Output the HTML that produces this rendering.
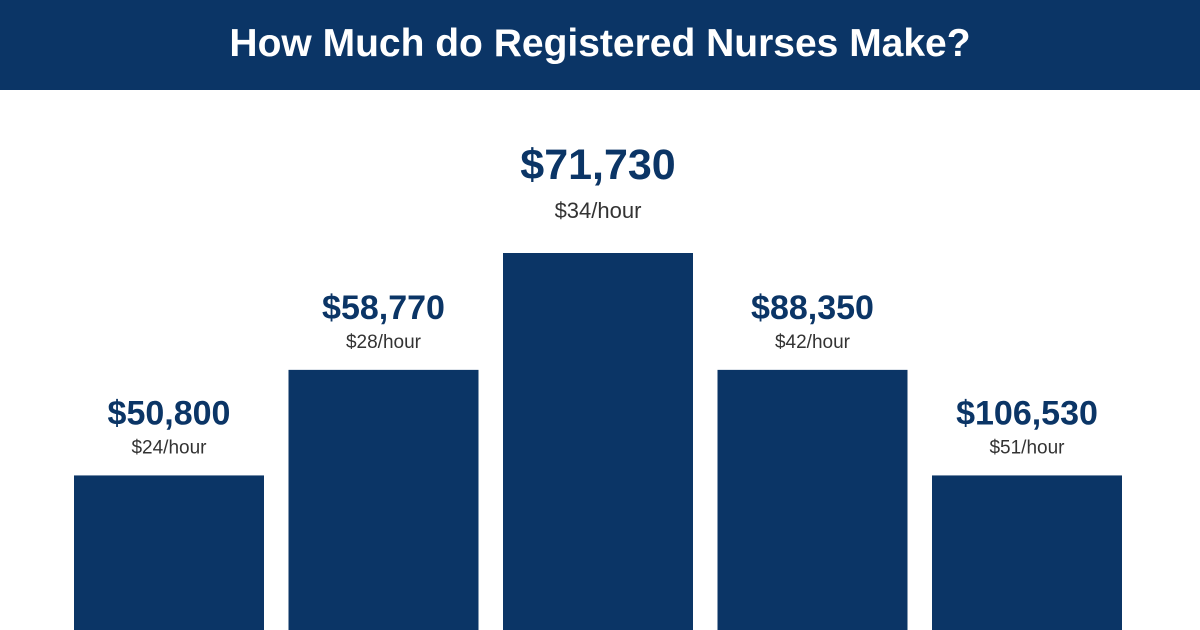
<!DOCTYPE html>
<html><head><meta charset="utf-8"><style>
body{margin:0;width:1200px;height:630px;background:#fff;font-family:"Liberation Sans",sans-serif;overflow:hidden;position:relative}
#hdr{position:absolute;left:0;top:0;width:1200px;height:90px;background:#0b3566;color:#fff;font-weight:bold;font-size:39px;text-align:center;line-height:88px}
svg{position:absolute;left:0;top:0}
</style></head><body>
<div id="hdr">How Much do Registered Nurses Make?</div>
<svg id="chart" width="1200" height="630"></svg>
<script>
const salaryLabels=["$50,800","$58,770","$71,730","$88,350","$106,530"];
const hourlyLabels=["$24/hour","$28/hour","$34/hour","$42/hour","$51/hour"];
const distribution=[41,69,100,69,41];
const featured=[false,false,true,false,false];
const svg=document.getElementById('chart');
const NS="http://www.w3.org/2000/svg";
const baseY=630, maxH=377, x0=74, step=214.5, bw=190;
const yScale=v=>v/100*maxH;
const xScale=i=>x0+i*step;
for(let i=0;i<distribution.length;i++){
  const h=yScale(distribution[i]), x=xScale(i), top=baseY-h;
  const r=document.createElementNS(NS,'rect');
  r.setAttribute('x',x);r.setAttribute('y',top);r.setAttribute('width',bw);r.setAttribute('height',h);r.setAttribute('fill','#0b3566');
  
  
  svg.appendChild(r);
  const big=featured[i];
  const t=document.createElementNS(NS,'text');
  t.setAttribute('x',x+bw/2);t.setAttribute('y',top-(big?74:51));t.setAttribute('text-anchor','middle');
  t.setAttribute('font-weight','bold');t.setAttribute('font-size',big?43:34);t.setAttribute('fill','#0b3566');
  t.textContent=salaryLabels[i];
  
  
  svg.appendChild(t);
  const u=document.createElementNS(NS,'text');
  u.setAttribute('x',x+bw/2);u.setAttribute('y',top-(big?35:22));u.setAttribute('text-anchor','middle');
  u.setAttribute('font-size',big?22:19);u.setAttribute('fill','#333');
  u.textContent=hourlyLabels[i];
  
  
  svg.appendChild(u);
}
</script>
</body></html>
